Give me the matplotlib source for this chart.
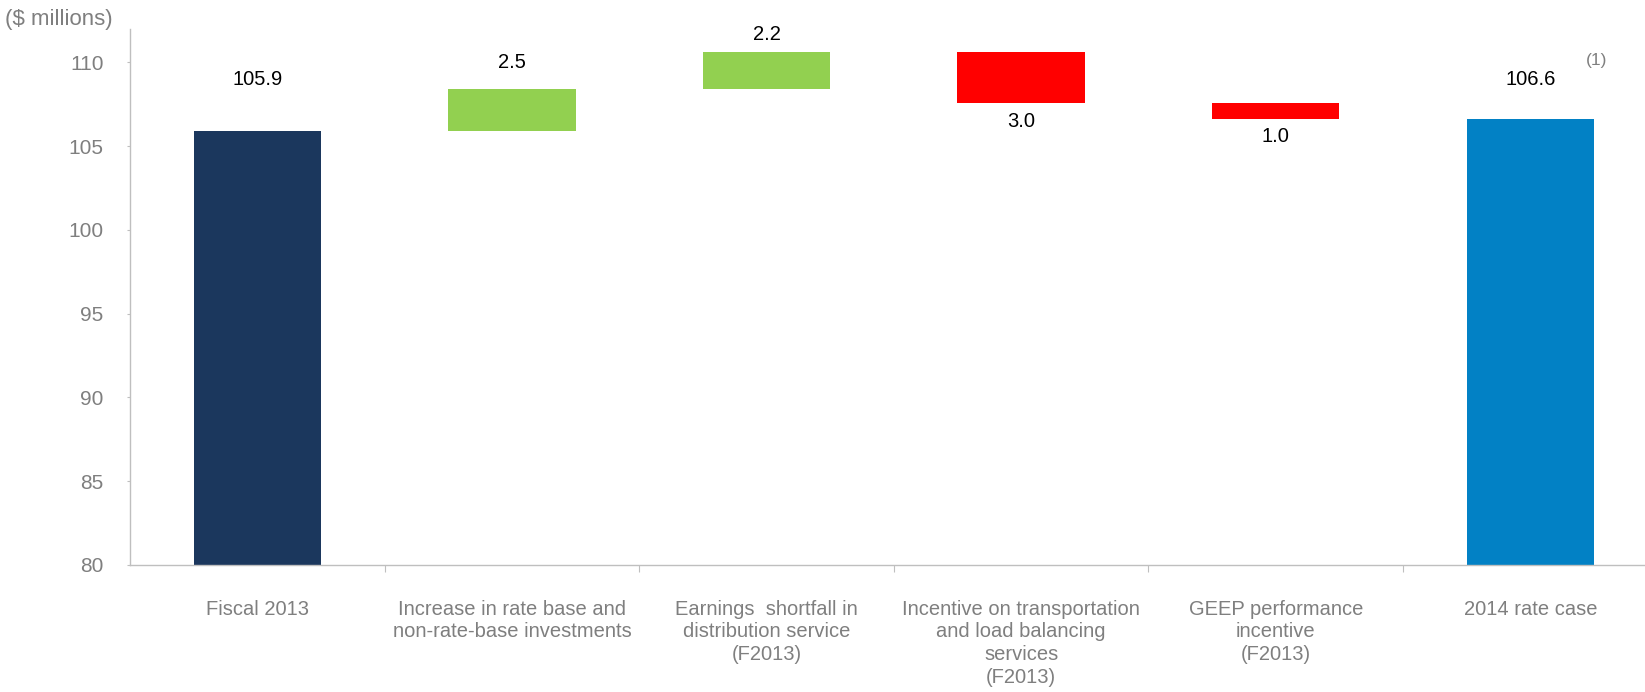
import matplotlib
matplotlib.use("Agg")
import matplotlib.pyplot as plt

# bridge from fiscal 2013 earnings to the 2014 rate case ($ millions)
categories = [
    "Fiscal 2013",
    "Increase in rate base and\nnon-rate-base investments",
    "Earnings  shortfall in\ndistribution service\n(F2013)",
    "Incentive on transportation\nand load balancing\nservices\n(F2013)",
    "GEEP performance\nincentive\n(F2013)",
    "2014 rate case",
]
start_value = 105.9
changes = [2.5, 2.2, -3.0, -1.0]
end_value = 106.6

navy = "#1B375D"
green = "#92D050"
red = "#FF0000"
blue = "#0281C5"
grey = "#7F7F7F"
axis_grey = "#BFBFBF"

plt.rcParams["font.family"] = ["Liberation Sans", "DejaVu Sans"]

fig = plt.figure(figsize=(16.45, 6.92), dpi=100)
ax = fig.add_axes([130 / 1645, 127 / 692, 6 * 254.6 / 1645, 0.7746])

base = 80
x = list(range(len(categories)))
w = 0.5

# totals
ax.bar(x[0], start_value - base, bottom=base, width=w, color=navy)
ax.bar(x[-1], end_value - base, bottom=base, width=w, color=blue)

# floating steps
level = start_value
steps = []
for i, c in enumerate(changes):
    lo = level if c > 0 else level + c
    ax.bar(x[i + 1], abs(c), bottom=lo, width=w, color=green if c > 0 else red)
    steps.append((level, level + c))
    level += c

# value labels
ax.text(x[0], start_value + 3.1, f"{start_value:.1f}", ha="center", va="center", fontsize=14.5)
ax.text(x[-1], end_value + 2.4, f"{end_value:.1f}", ha="center", va="center", fontsize=14.5)
offsets = [1.6, 1.1, -1.1, -1.0]
for i, (c, (a, b), off) in enumerate(zip(changes, steps, offsets)):
    y = max(a, b) + off if c > 0 else min(a, b) + off
    ax.text(x[i + 1], y, f"{abs(c):.1f}", ha="center", va="center", fontsize=14.5)

ax.text(5.26, 110.1, "(1)", ha="center", va="center", fontsize=12.5, color=grey)

ax.set_xlim(-0.5, 5.5)
ax.set_ylim(80, 112)
ax.set_yticks([80, 85, 90, 95, 100, 105, 110])
ax.tick_params(axis="y", length=2, color=axis_grey, pad=17, labelsize=15, labelcolor=grey)

ax.set_xticks([0.5, 1.5, 2.5, 3.5, 4.5])
ax.set_xticklabels([])
ax.tick_params(axis="x", which="major", length=5, color=axis_grey)
ax.set_xticks(x, minor=True)
ax.set_xticklabels(categories, minor=True, fontsize=14.5, color=grey,
                   linespacing=1.25, va="top")
ax.tick_params(axis="x", which="minor", length=0, pad=25)

for s in ["top", "right"]:
    ax.spines[s].set_visible(False)
for s in ["left", "bottom"]:
    ax.spines[s].set_color(axis_grey)
    ax.spines[s].set_linewidth(1)

fig.text(5 / 1645, 1 - 19 / 692, "($ millions)", ha="left", va="center", fontsize=16, color=grey)

fig.savefig("out.png", dpi=100)
